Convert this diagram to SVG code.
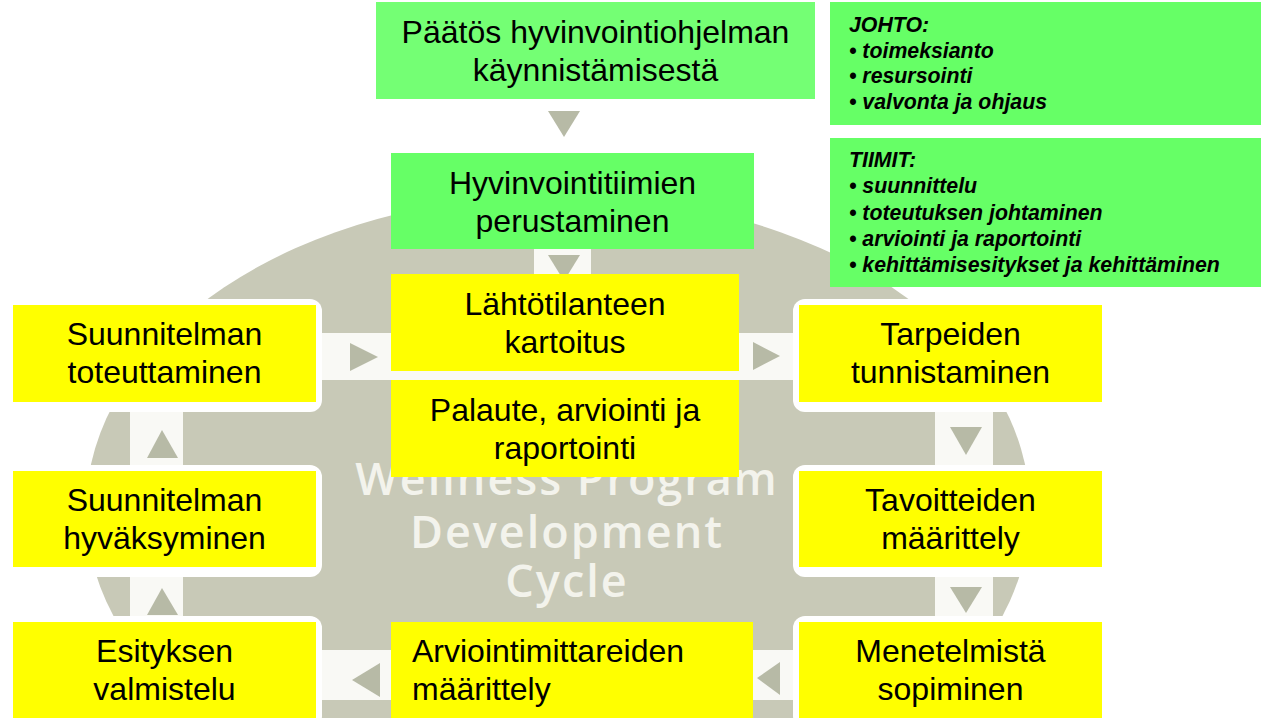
<svg xmlns="http://www.w3.org/2000/svg" width="1261" height="718" viewBox="0 0 1261 718">
<style>
.lbl{font-family:"Liberation Sans",Arial,Helvetica,sans-serif;font-size:32px;fill:#000}
.c{text-anchor:middle}
.lst{font-family:"Liberation Sans",Arial,Helvetica,sans-serif;font-size:21.3px;font-weight:bold;font-style:italic;fill:#000}
.y{fill:#FFFF00}
.g{fill:#66FF66}
.g2{fill:#74FF74}
.card{fill:#FFFFFF}
.lane{fill:#F9F9F5}
.tri{fill:#B7BAA6}
.wm{font-family:"Open Sans","DejaVu Sans",sans-serif;font-size:45px;font-weight:600;fill:#F3F3EC;text-anchor:middle;letter-spacing:2px}
</style>
<rect width="1261" height="718" fill="#FFFFFF"/>
<g id="background">
<ellipse cx="558" cy="510" rx="472" ry="315" fill="#C8C9B7"/>
<rect class="lane" x="534" y="190" width="57" height="90"/>
<rect class="lane" x="300" y="333" width="515" height="47"/>
<rect class="lane" x="130" y="395" width="53" height="240"/>
<rect class="lane" x="935" y="395" width="58" height="240"/>
<rect class="lane" x="300" y="650" width="515" height="50"/>
<rect class="card" x="7" y="299" width="315" height="113" rx="12"/>
<rect class="card" x="7" y="465" width="315" height="112" rx="12"/>
<rect class="card" x="7" y="616" width="315" height="112" rx="12"/>
<rect class="card" x="793" y="299" width="315" height="113" rx="12"/>
<rect class="card" x="793" y="465" width="315" height="112" rx="12"/>
<rect class="card" x="793" y="616" width="315" height="112" rx="12"/>
<text class="wm" x="567" y="495">Wellness Program</text>
<text class="wm" x="567" y="548">Development</text>
<text class="wm" x="567" y="597">Cycle</text>
</g>
<g id="connectors">
<polygon class="tri" points="548,111 580,111 564,137"/>
<polygon class="tri" points="548,255 580,255 564,281"/>
<polygon class="tri" points="350,343 350,371 378,357"/>
<polygon class="tri" points="753,342 753,370 780,356"/>
<polygon class="tri" points="950,427 982,427 966,455"/>
<polygon class="tri" points="950,587 982,587 966,613"/>
<polygon class="tri" points="780,662 780,695 757,678"/>
<polygon class="tri" points="380,663 380,697 352,680"/>
<polygon class="tri" points="147,458 178,458 162,430"/>
<polygon class="tri" points="147,615 178,615 162,588"/>
</g>
<g id="node-paatos">
<rect class="g2" x="376" y="2" width="439" height="97"/>
<text class="lbl c" x="595.5" y="42.5">Päätös hyvinvointiohjelman</text>
<text class="lbl c" x="595.5" y="80.5">käynnistämisestä</text>
</g>
<g id="node-tiimien-perustaminen">
<rect class="g" x="391" y="153" width="363" height="96"/>
<text class="lbl c" x="572.5" y="194">Hyvinvointitiimien</text>
<text class="lbl c" x="572.5" y="232">perustaminen</text>
</g>
<g id="node-johto">
<rect class="g" x="830" y="2" width="431" height="123"/>
<text class="lst" x="849" y="32">JOHTO:</text>
<text class="lst" x="849" y="57.7">• toimeksianto</text>
<text class="lst" x="849" y="83.4">• resursointi</text>
<text class="lst" x="849" y="109.1">• valvonta ja ohjaus</text>
</g>
<g id="node-tiimit">
<rect class="g" x="830" y="138" width="431" height="149"/>
<text class="lst" x="849" y="167">TIIMIT:</text>
<text class="lst" x="849" y="193.3">• suunnittelu</text>
<text class="lst" x="849" y="219.6">• toteutuksen johtaminen</text>
<text class="lst" x="849" y="245.9">• arviointi ja raportointi</text>
<text class="lst" x="849" y="272.2">• kehittämisesitykset ja kehittäminen</text>
</g>
<g id="node-lahtotilanne">
<rect class="y" x="391" y="274" width="348" height="97"/>
<text class="lbl c" x="565" y="315">Lähtötilanteen</text>
<text class="lbl c" x="565" y="353">kartoitus</text>
</g>
<g id="node-palaute">
<rect class="y" x="391" y="380" width="348" height="97"/>
<text class="lbl c" x="565" y="421">Palaute, arviointi ja</text>
<text class="lbl c" x="565" y="459">raportointi</text>
</g>
<g id="node-arviointimittarit">
<rect class="y" x="391" y="622" width="362" height="96"/>
<text class="lbl" x="412" y="662">Arviointimittareiden</text>
<text class="lbl" x="412" y="700">määrittely</text>
</g>
<g id="node-toteuttaminen">
<rect class="y" x="13" y="305" width="303" height="97"/>
<text class="lbl c" x="164.5" y="345">Suunnitelman</text>
<text class="lbl c" x="164.5" y="383">toteuttaminen</text>
</g>
<g id="node-hyvaksyminen">
<rect class="y" x="13" y="471" width="303" height="96"/>
<text class="lbl c" x="164.5" y="511">Suunnitelman</text>
<text class="lbl c" x="164.5" y="549">hyväksyminen</text>
</g>
<g id="node-esitys">
<rect class="y" x="13" y="622" width="303" height="96"/>
<text class="lbl c" x="164.5" y="662">Esityksen</text>
<text class="lbl c" x="164.5" y="700">valmistelu</text>
</g>
<g id="node-tarpeet">
<rect class="y" x="799" y="305" width="303" height="97"/>
<text class="lbl c" x="950.5" y="345">Tarpeiden</text>
<text class="lbl c" x="950.5" y="383">tunnistaminen</text>
</g>
<g id="node-tavoitteet">
<rect class="y" x="799" y="471" width="303" height="96"/>
<text class="lbl c" x="950.5" y="511">Tavoitteiden</text>
<text class="lbl c" x="950.5" y="549">määrittely</text>
</g>
<g id="node-menetelmat">
<rect class="y" x="799" y="622" width="303" height="96"/>
<text class="lbl c" x="950.5" y="662">Menetelmistä</text>
<text class="lbl c" x="950.5" y="700">sopiminen</text>
</g>
</svg>
